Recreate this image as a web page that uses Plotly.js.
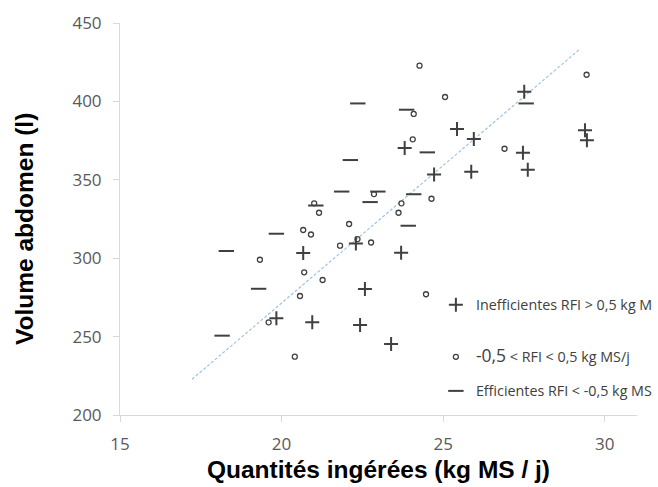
<!DOCTYPE html>
<html><head><meta charset="utf-8">
<script src="https://cdn.plot.ly/plotly-3.0.1.min.js"></script>
<style>html,body{margin:0;padding:0;background:#fff}#chart{width:658px;height:487px}</style>
</head><body><div id="chart"></div><script>
// Inefficientes RFI > 0,5 kg MS/j  (+)
const ineffX = [20.67, 23.70, 22.30, 22.58, 19.84, 20.95, 22.43, 23.39, 27.51, 25.43, 25.95, 23.81, 27.47, 29.39, 29.45, 27.62, 25.87, 24.72];
const ineffY = [303.3, 303.5, 309.4, 280.4, 261.7, 259.1, 257.4, 245.3, 406.2, 382.4, 376.0, 370.3, 367.3, 381.6, 375.2, 356.4, 355.2, 353.4];
// -0,5 < RFI < 0,5 kg MS/j  (o)
const midX = [21.01, 21.16, 23.71, 23.62, 22.09, 20.67, 20.91, 22.35, 21.81, 22.77, 19.33, 20.70, 21.27, 20.57, 19.60, 20.41, 24.47, 24.27, 25.06, 24.09, 24.06, 26.90, 29.44, 22.86, 24.64];
const midY = [335.0, 329.0, 335.0, 329.0, 321.8, 318.0, 315.1, 312.2, 308.0, 310.0, 299.0, 291.0, 286.1, 275.9, 259.1, 237.2, 277.0, 422.8, 402.8, 392.0, 375.8, 369.8, 417.0, 340.9, 337.9];
// Efficientes RFI < -0,5 kg MS/j  (-)
const effX = [21.06, 22.74, 23.92, 19.84, 18.29, 19.29, 18.16, 23.87, 27.57, 24.51, 24.09, 22.36, 22.13, 21.86, 22.98];
const effY = [333.6, 335.8, 320.7, 315.6, 304.6, 280.5, 250.6, 394.7, 398.7, 367.5, 340.8, 398.7, 362.6, 342.5, 342.5];
// linear trend line end points
const trendX = [17.23, 29.20];
const trendY = [222.8, 432.8];

const xTicks = [15, 20, 25, 30];
const yTicks = [200, 250, 300, 350, 400, 450];

const names = [
  'Inefficientes RFI &gt; 0,5 kg M',
  '<span style="font-size:17.5px">-0,5</span> &lt; RFI &lt; 0,5 kg MS/j',
  'Efficientes RFI &lt; -0,5 kg MS'
];
const xTitle = 'Quantités ingérées (kg MS / j)';
const yTitle = 'Volume abdomen (l)';

const ink = '#404040';
const traces = [
  {x: trendX, y: trendY, mode: 'lines', showlegend: false, hoverinfo: 'skip',
   line: {color: '#9dc3e6', width: 1.2, dash: '3px,2px'}},
  {x: ineffX, y: ineffY, mode: 'markers', name: names[0], legend: 'legend',
   marker: {symbol: 'cross-thin-open', size: 10, color: ink, line: {color: ink, width: 2}}},
  {x: midX, y: midY, mode: 'markers', name: names[1], legend: 'legend2',
   marker: {symbol: 'circle-open', size: 5, color: ink, line: {color: ink, width: 1.3}}},
  {x: effX, y: effY, mode: 'markers', name: names[2], legend: 'legend3',
   marker: {symbol: 'line-ew-open', size: 11, color: ink, line: {color: ink, width: 2}}}
];

const legFont = {family: 'Open Sans', size: 14.3, color: ink};
const legBase = {xanchor: 'left', yanchor: 'middle', x: 0.611, bgcolor: 'rgba(0,0,0,0)', borderwidth: 0, font: legFont, itemwidth: 30};
const titleFont = {family: 'Liberation Sans, Arial, sans-serif', size: 24.5, color: '#000', weight: 'bold'};

const layout = {
  width: 658, height: 487,
  margin: {l: 120, r: 21, t: 23, b: 72, autoexpand: false},
  paper_bgcolor: '#fff', plot_bgcolor: '#fff',
  showlegend: true,
  legend: Object.assign({}, legBase, {y: 0.281}),
  legend2: Object.assign({}, legBase, {y: 0.148}),
  legend3: Object.assign({}, legBase, {y: 0.061}),
  xaxis: {
    range: [15, 31], tickvals: xTicks, ticktext: xTicks.map(String),
    showgrid: false, zeroline: false, showline: true, linecolor: '#d9d9d9', linewidth: 1,
    ticks: 'outside', ticklen: 6, tickcolor: '#d9d9d9', ticklabelstandoff: 8,
    tickfont: {family: 'Open Sans', size: 17, color: '#595959'},
    title: {text: xTitle, standoff: 6, font: titleFont}
  },
  yaxis: {
    range: [200, 450], tickvals: yTicks, ticktext: yTicks.map(String),
    showgrid: false, zeroline: false, showline: true, linecolor: '#d9d9d9', linewidth: 1,
    ticks: 'outside', ticklen: 6, tickcolor: '#d9d9d9', ticklabelstandoff: 8,
    tickfont: {family: 'Open Sans', size: 17, color: '#595959'}
  },
  annotations: [
    {text: yTitle, xref: 'paper', yref: 'paper', x: 0, y: 0.4745, xanchor: 'center', yanchor: 'middle',
     xshift: -95, textangle: -90, showarrow: false, font: titleFont}
  ]
};

Plotly.newPlot('chart', traces, layout, {displayModeBar: false, staticPlot: true});
</script></body></html>
